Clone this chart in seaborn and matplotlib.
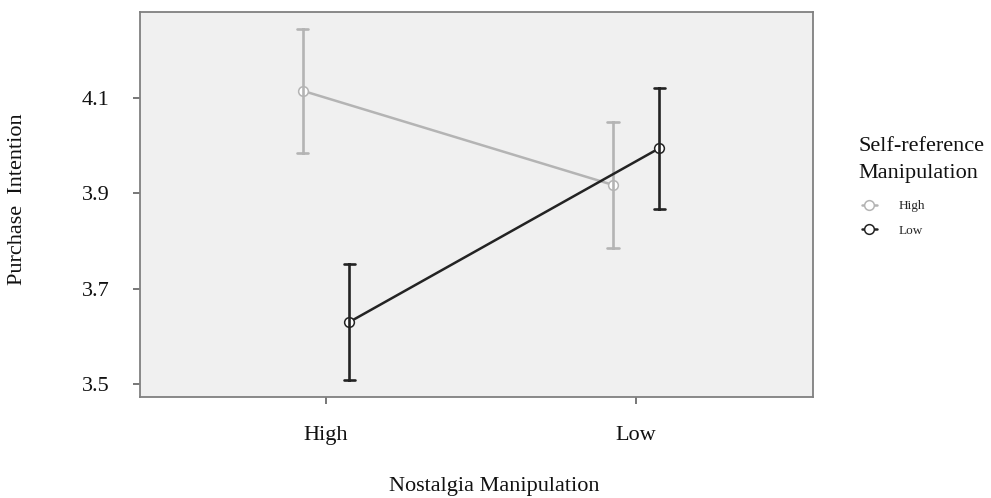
import numpy as np
import pandas as pd
import matplotlib
matplotlib.use("Agg")
import matplotlib.pyplot as plt
import seaborn as sns

# ---- data ----
nostalgia = ["High", "Low"]
self_ref = ["High", "Low"]
means_high_sr = [4.114, 3.917]   # Self-reference High (grey)
lower_high_sr = [3.983, 3.785]
upper_high_sr = [4.243, 4.048]
means_low_sr = [3.630, 3.994]    # Self-reference Low (black)
lower_low_sr = [3.509, 3.867]
upper_low_sr = [3.752, 4.119]
y_ticks = [3.5, 3.7, 3.9, 4.1]

rows = []
for sr, m, lo, hi in [("High", means_high_sr, lower_high_sr, upper_high_sr),
                      ("Low", means_low_sr, lower_low_sr, upper_low_sr)]:
    for i, n in enumerate(nostalgia):
        for v in (lo[i], m[i], hi[i]):
            rows.append({"Nostalgia Manipulation": n,
                         "Self-reference Manipulation": sr,
                         "Purchase Intention": v})
df = pd.DataFrame(rows)

sns.set_style("white")
plt.rcParams["font.family"] = ["Liberation Serif", "DejaVu Serif"]

W, H = 991, 498
fig = plt.figure(figsize=(W/100, H/100), dpi=100)
ax = fig.add_axes([140/W, 1-397/H, 673/W, 385/H])
ax.set_facecolor("#f0f0f0")

palette = {"High": "#b4b4b4", "Low": "#232323"}
sns.pointplot(data=df, x="Nostalgia Manipulation", y="Purchase Intention",
              hue="Self-reference Manipulation", hue_order=self_ref,
              order=nostalgia, palette=palette,
              estimator="median", errorbar=lambda v: (v.min(), v.max()),
              dodge=0.15, capsize=0.036, markers="o",
              linewidth=1.8, err_kws={"linewidth": 1.9},
              markersize=7, markerfacecolor="white", markeredgewidth=1.1,
              ax=ax)

ax.set_ylim(3.473, 4.279)
ax.set_xlim(-0.6, 1.57)
ax.set_yticks(y_ticks)
ax.set_yticklabels([f"{t:.1f}" for t in y_ticks])

for s in ax.spines.values():
    s.set_color("#808080")
    s.set_linewidth(1.3)

ax.tick_params(axis="both", which="both", direction="out", length=5,
               width=1.2, color="#606060", labelsize=16, labelcolor="#111111")
ax.tick_params(axis="x", pad=16)
ax.tick_params(axis="y", pad=17)
ax.xaxis.set_ticks_position("bottom")
ax.yaxis.set_ticks_position("left")

ax.set_xlabel("Nostalgia Manipulation", fontsize=16, color="#111111")
ax.xaxis.label.set_va("center")
ax.xaxis.set_label_coords((494-140)/673, (397-486)/385)
ax.set_ylabel("Purchase  Intention", fontsize=16, color="#111111")
ax.yaxis.label.set_va("center")
ax.yaxis.set_label_coords((18-140)/673, 0.514)

# legend title as separate text, entries as a legend
fig.text(858/W, 1-137/H, "Self-reference\nManipulation", ha="left", va="top",
         fontsize=16, color="#111111", linespacing=1.6)
handles, labels = ax.get_legend_handles_labels()
leg = ax.legend(handles, labels, loc="upper left",
                bbox_to_anchor=(862/W, 1-200/H), bbox_transform=fig.transFigure,
                frameon=False, fontsize=9.5, borderpad=0, borderaxespad=0,
                handlelength=1.1, handletextpad=1.7, labelspacing=0.95)
for h in leg.legend_handles:
    try:
        h.set_markerfacecolor("white")
        h.set_markersize(7)
    except Exception:
        pass

fig.savefig("out.png", dpi=100)
